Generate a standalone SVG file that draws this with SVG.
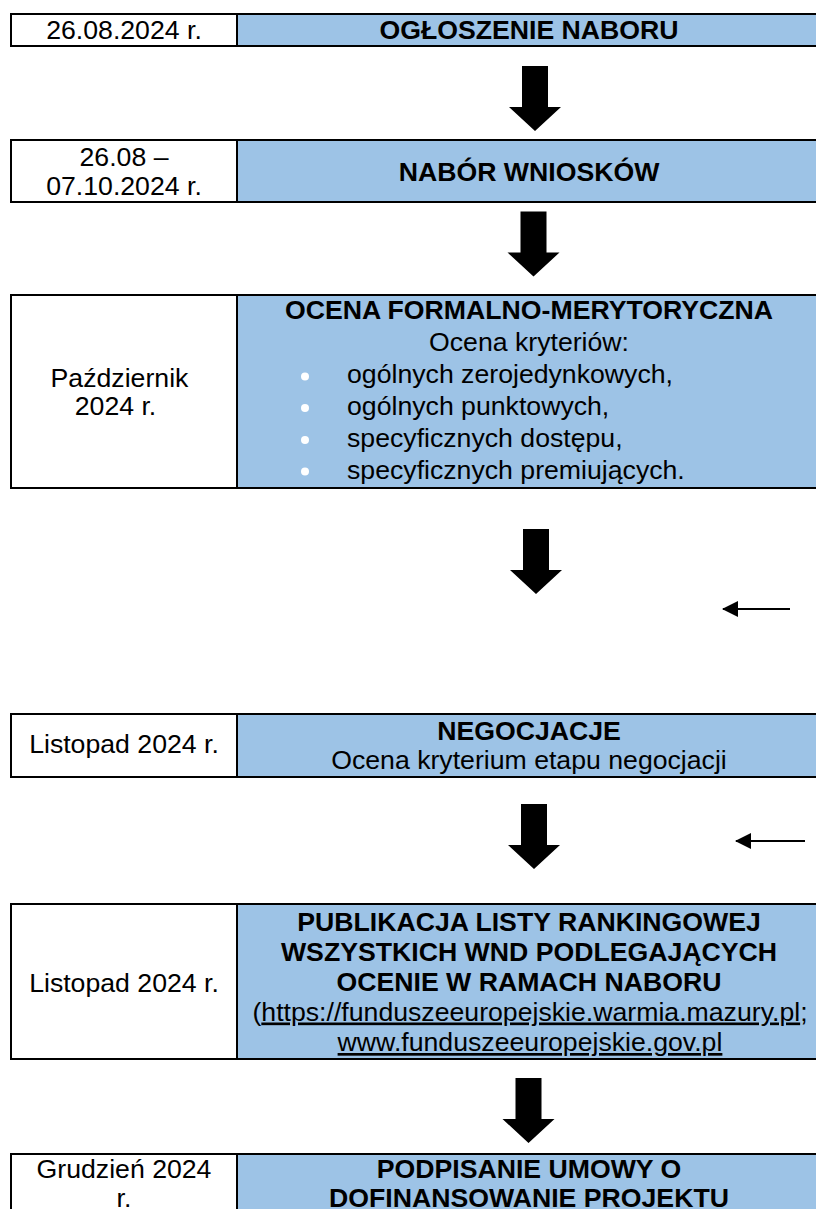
<svg xmlns="http://www.w3.org/2000/svg" width="816" height="1209" viewBox="0 0 816 1209">
<style>
.l{fill:#fff;stroke:#000;stroke-width:2}
.r{fill:#9DC3E6;stroke:#000;stroke-width:2}
text{font-family:"Liberation Sans",Arial,sans-serif;font-size:26.67px;fill:#000}
.c{text-anchor:middle}
.b{font-weight:bold}
.u{text-decoration:underline}
.dot{fill:#fff}
.big{fill:#000}
.thin{stroke:#000;stroke-width:2;fill:none}
</style>
<defs>
<path id="bigArrow" d="M-13,0 H13 V41 H26 L0,65 L-26,41 H-13 Z"/>
<marker id="ah" markerWidth="16" markerHeight="16" refX="15" refY="8" orient="auto" markerUnits="userSpaceOnUse">
<path d="M0,0 L16,8 L0,16 Z" fill="#000"/>
</marker>
</defs>
<rect width="816" height="1209" fill="#fff"/>

<g id="row1">
<rect class="l" x="11" y="14" width="226" height="32"/>
<rect class="r" x="237" y="14" width="600" height="32"/>
<text class="c" x="124" y="39">26.08.2024 r.</text>
<text class="c b" x="529" y="39">OGŁOSZENIE NABORU</text>
</g>

<g id="row2">
<rect class="l" x="11" y="140" width="226" height="62"/>
<rect class="r" x="237" y="140" width="600" height="62"/>
<text class="c" x="124" y="166">26.08 –</text>
<text class="c" x="124" y="195">07.10.2024 r.</text>
<text class="c b" x="529" y="181">NABÓR WNIOSKÓW</text>
</g>

<g id="row3">
<rect class="l" x="11" y="295" width="226" height="193"/>
<rect class="r" x="237" y="295" width="600" height="193"/>
<text class="c" x="119.5" y="387">Październik</text>
<text class="c" x="115.5" y="415">2024 r.</text>
<text class="c b" x="529" y="319">OCENA FORMALNO-MERYTORYCZNA</text>
<text class="c" x="529" y="350.5">Ocena kryteriów:</text>
<circle class="dot" cx="305" cy="376.5" r="4"/>
<circle class="dot" cx="305" cy="408" r="4"/>
<circle class="dot" cx="305" cy="440" r="4"/>
<circle class="dot" cx="305" cy="471.5" r="4"/>
<text x="347" y="383">ogólnych zerojedynkowych,</text>
<text x="347" y="415">ogólnych punktowych,</text>
<text x="347" y="446.5">specyficznych dostępu,</text>
<text x="347" y="478.5">specyficznych premiujących.</text>
</g>

<g id="row4">
<rect class="l" x="11" y="714" width="226" height="63"/>
<rect class="r" x="237" y="714" width="600" height="63"/>
<text class="c" x="124" y="753">Listopad 2024 r.</text>
<text class="c b" x="529" y="740">NEGOCJACJE</text>
<text class="c" x="529" y="768.5">Ocena kryterium etapu negocjacji</text>
</g>

<g id="row5">
<rect class="l" x="11" y="904" width="226" height="155"/>
<rect class="r" x="237" y="904" width="600" height="155"/>
<text class="c" x="124" y="992">Listopad 2024 r.</text>
<text class="c b" x="529" y="930.5">PUBLIKACJA LISTY RANKINGOWEJ</text>
<text class="c b" x="529" y="960.5">WSZYSTKICH WND PODLEGAJĄCYCH</text>
<text class="c b" x="529" y="990.5">OCENIE W RAMACH NABORU</text>
<text class="c" x="530" y="1020.5">(<tspan class="u">https://funduszeeuropejskie.warmia.mazury.pl</tspan>;</text>
<text class="c u" x="530" y="1051">www.funduszeeuropejskie.gov.pl</text>
</g>

<g id="row6">
<rect class="l" x="11" y="1154" width="226" height="80"/>
<rect class="r" x="237" y="1154" width="600" height="80"/>
<text class="c" x="124" y="1177.5">Grudzień 2024</text>
<text class="c" x="124" y="1207">r.</text>
<text class="c b" x="529" y="1178">PODPISANIE UMOWY O</text>
<text class="c b" x="529" y="1207">DOFINANSOWANIE PROJEKTU</text>
</g>

<g id="connectors">
<use href="#bigArrow" class="big" transform="translate(535,66)"/>
<use href="#bigArrow" class="big" transform="translate(533.5,211.5)"/>
<use href="#bigArrow" class="big" transform="translate(536,529)"/>
<use href="#bigArrow" class="big" transform="translate(534,804)"/>
<use href="#bigArrow" class="big" transform="translate(528.5,1078)"/>
<line class="thin" x1="790" y1="609" x2="723" y2="609" marker-end="url(#ah)"/>
<line class="thin" x1="805" y1="841" x2="736" y2="841" marker-end="url(#ah)"/>
</g>
</svg>
